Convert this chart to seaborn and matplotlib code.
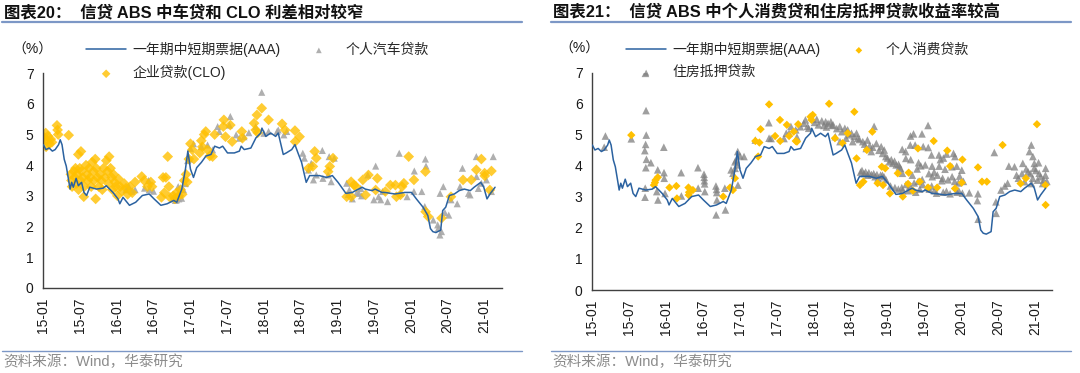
import matplotlib
matplotlib.use("Agg")
import pandas as pd
import matplotlib.pyplot as plt
import matplotlib.dates as mdates
from matplotlib.lines import Line2D
import seaborn as sns

# 1. Data
# 一年期中短期票据(AAA) - shared by both panels
mtn_dates = [
    "2015-01-01", "2015-01-14", "2015-01-30", "2015-02-15", "2015-03-01", "2015-03-18", "2015-03-26",
    "2015-04-04", "2015-04-15", "2015-04-25", "2015-05-06", "2015-05-14", "2015-05-22", "2015-05-30",
    "2015-06-13", "2015-06-24", "2015-07-10", "2015-07-22", "2015-08-04", "2015-08-20", "2015-09-22",
    "2015-10-25", "2015-11-10", "2015-12-13", "2016-01-07", "2016-01-16", "2016-02-01", "2016-03-04",
    "2016-04-04", "2016-05-07", "2016-06-10", "2016-07-04", "2016-08-07", "2016-09-07", "2016-10-10",
    "2016-10-25", "2016-11-19", "2016-12-07", "2016-12-19", "2017-01-01", "2017-01-16", "2017-02-01",
    "2017-02-24", "2017-03-19", "2017-04-13", "2017-05-01", "2017-05-25", "2017-06-10", "2017-07-04",
    "2017-08-07", "2017-09-01", "2017-09-10", "2017-09-25", "2017-10-28", "2017-11-22", "2017-12-16",
    "2017-12-22", "2018-01-10", "2018-02-04", "2018-02-28", "2018-03-13", "2018-04-07", "2018-04-22",
    "2018-05-19", "2018-06-04", "2018-06-19", "2018-07-07", "2018-07-22", "2018-07-30", "2018-08-16",
    "2018-10-04", "2018-11-07", "2018-12-07", "2019-01-04", "2019-01-28", "2019-02-12", "2019-03-16",
    "2019-04-01", "2019-05-04", "2019-05-19", "2019-06-22", "2019-07-07", "2019-08-10", "2019-08-25",
    "2019-10-13", "2019-12-01", "2020-01-04", "2020-01-28", "2020-03-01", "2020-03-25", "2020-04-07",
    "2020-04-19", "2020-05-04", "2020-05-28", "2020-06-07", "2020-06-22", "2020-07-10", "2020-08-04",
    "2020-08-28", "2020-09-22", "2020-10-22", "2020-11-10", "2020-12-13", "2020-12-28", "2021-01-13",
    "2021-01-28", "2021-02-22",
]
mtn_vals = [
    4.67, 4.51, 4.56, 4.46, 4.51, 4.67, 4.83,
    4.67, 4.19, 3.97, 3.54, 3.22, 3.44, 3.28,
    3.57, 3.33, 3.44, 3.11, 3.01, 3.28, 3.22,
    3.25, 3.33, 3.11, 2.90, 2.74, 2.95, 2.69,
    2.79, 3.01, 3.06, 2.90, 2.69, 2.74, 2.85,
    2.79, 3.22, 3.87, 4.46, 3.87, 3.60, 3.92,
    4.09, 4.30, 4.35, 4.62, 4.56, 4.62, 4.40,
    4.40, 4.46, 4.62, 4.51, 4.56, 4.89, 5.05,
    5.21, 4.94, 5.05, 4.94, 5.05, 4.35, 4.40,
    4.51, 4.67, 4.40, 4.09, 3.66, 3.44, 3.66,
    3.66, 3.60, 3.66, 3.44, 3.22, 3.08, 3.11,
    3.17, 3.28, 3.22, 3.17, 3.22, 3.11, 3.11,
    3.06, 3.11, 3.11, 2.90, 2.63, 2.36, 1.93,
    1.83, 1.80, 1.88, 2.52, 2.63, 3.01, 3.06,
    3.17, 3.22, 3.17, 3.28, 3.44, 3.28, 2.90,
    3.06, 3.28,
]

# 企业贷款(CLO)
clo_dates = [
    "2015-01-07", "2015-01-13", "2015-01-18", "2015-01-24", "2015-02-01", "2015-02-07", "2015-02-13",
    "2015-01-15", "2015-03-10", "2015-03-13", "2015-03-16", "2015-05-07", "2015-06-24", "2015-07-07",
    "2015-05-18", "2015-05-21", "2015-05-24", "2015-06-01", "2015-06-07", "2015-06-10", "2015-06-16",
    "2015-06-18", "2015-06-25", "2015-07-01", "2015-07-04", "2015-07-10", "2015-07-16", "2015-07-21",
    "2015-07-24", "2015-08-01", "2015-08-07", "2015-08-10", "2015-08-16", "2015-08-21", "2015-08-27",
    "2015-09-01", "2015-09-07", "2015-09-10", "2015-09-16", "2015-09-18", "2015-09-21", "2015-09-27",
    "2015-10-04", "2015-10-10", "2015-10-16", "2015-10-21", "2015-10-27", "2015-11-04", "2015-11-10",
    "2015-11-16", "2015-11-21", "2015-11-24", "2015-12-01", "2015-12-07", "2015-12-10", "2015-12-16",
    "2015-12-21", "2015-12-27", "2016-01-04", "2016-01-10", "2016-01-18", "2016-01-27", "2016-02-07",
    "2016-02-16", "2016-02-24", "2016-03-07", "2016-03-18", "2016-04-01", "2016-05-04", "2016-05-16",
    "2016-06-01", "2016-06-18", "2016-06-24", "2016-08-10", "2016-08-18", "2016-08-24", "2016-09-01",
    "2016-09-10", "2016-09-16", "2016-09-21", "2016-10-07", "2016-10-16", "2016-10-24", "2016-11-04",
    "2016-11-13", "2016-11-21", "2016-12-01", "2016-12-10", "2016-12-16", "2016-12-24", "2017-01-01",
    "2017-01-10", "2017-01-18", "2017-02-16", "2017-02-24", "2017-03-01", "2017-03-10", "2017-03-18",
    "2017-03-27", "2017-04-07", "2017-04-21", "2017-05-01", "2017-06-13", "2017-06-16", "2017-06-24",
    "2017-07-18", "2017-07-27", "2017-09-13", "2017-09-16", "2017-11-13", "2017-11-21", "2017-11-27",
    "2017-12-01", "2017-12-21", "2018-01-24", "2018-04-01", "2018-04-16", "2018-06-04", "2018-06-27",
    "2018-06-05", "2018-08-10", "2018-09-01", "2018-09-10", "2018-09-18", "2018-11-16", "2018-11-24",
    "2018-12-10", "2019-02-16", "2019-03-10", "2019-03-11", "2019-03-24", "2019-04-04", "2019-05-07",
    "2019-05-21", "2019-06-04", "2019-07-10", "2019-07-18", "2019-08-27", "2019-09-21", "2019-10-16",
    "2019-10-21", "2019-11-10", "2019-11-18", "2019-11-27", "2019-12-21", "2020-01-16", "2020-03-13",
    "2020-03-14", "2020-03-27", "2020-06-01", "2020-07-18", "2020-09-16", "2020-10-27", "2020-11-21",
    "2020-12-16", "2021-01-01", "2021-01-02", "2021-02-04", "2021-01-27",
]
clo_vals = [
    4.90, 5.05, 4.80, 4.95, 4.70, 4.85, 4.75,
    4.60, 5.30, 5.15, 5.00, 4.98, 4.35, 4.45,
    3.70, 3.50, 3.30, 3.80, 3.60, 3.90, 3.40,
    3.70, 3.20, 3.90, 3.50, 3.80, 3.60, 2.97,
    3.30, 4.00, 3.70, 3.50, 3.90, 3.60, 3.30,
    4.10, 3.80, 3.50, 4.20, 2.90, 3.90, 3.60,
    3.30, 3.70, 3.50, 3.20, 3.90, 3.60, 4.15,
    3.80, 3.40, 4.28, 3.90, 3.60, 3.20, 3.70,
    3.45, 3.30, 3.00, 3.55, 3.30, 3.15, 3.40,
    3.25, 3.05, 3.30, 3.10, 3.45, 3.63, 3.50,
    3.30, 3.45, 3.30, 2.95, 3.60, 3.10, 3.60,
    4.28, 3.30, 2.95, 3.00, 2.90, 3.10, 3.00,
    3.20, 3.05, 3.50, 3.70, 3.45, 4.20, 4.70,
    4.50, 4.20, 4.40, 4.80, 4.60, 5.00, 5.10,
    4.50, 4.30, 4.28, 5.00, 5.26, 5.48, 4.93,
    5.31, 4.77, 5.10, 4.88, 5.37, 5.15, 5.64,
    5.06, 5.86, 5.48, 5.35, 5.15, 5.13, 4.93,
    4.77, 3.90, 3.96, 4.45, 4.23, 3.79, 3.96,
    4.23, 2.97, 3.46, 2.97, 3.35, 3.30, 3.52,
    3.03, 3.68, 3.19, 3.57, 3.14, 3.35, 3.35,
    2.97, 3.03, 3.30, 3.41, 4.28, 3.52, 3.79,
    2.48, 2.32, 2.27, 2.97, 3.52, 3.52, 3.85,
    4.20, 3.74, 3.65, 3.81, 3.19,
]

# 个人汽车贷款
auto_dates = [
    "2016-02-16", "2016-03-01", "2016-03-16", "2016-04-01", "2016-05-18", "2016-06-07", "2016-06-10",
    "2016-07-01", "2016-10-07", "2016-10-18", "2016-10-24", "2016-11-01", "2016-11-04", "2016-11-18",
    "2016-11-27", "2016-12-07", "2016-12-18", "2016-12-27", "2017-01-01", "2017-01-16", "2017-02-24",
    "2017-03-27", "2017-04-21", "2017-05-16", "2017-05-24", "2017-07-13", "2017-07-18", "2017-08-16",
    "2017-09-01", "2017-09-24", "2017-10-18", "2017-11-21", "2017-12-21", "2018-01-01", "2018-01-24",
    "2018-03-07", "2018-03-13", "2018-04-10", "2018-04-24", "2018-07-13", "2018-07-21", "2018-08-10",
    "2018-08-24", "2018-09-04", "2018-09-18", "2018-10-18", "2018-10-21", "2018-11-16", "2018-11-21",
    "2018-12-01", "2018-12-16", "2019-02-16", "2019-02-24", "2019-03-01", "2019-03-16", "2019-04-07",
    "2019-04-18", "2019-04-27", "2019-05-01", "2019-06-01", "2019-07-01", "2019-07-10", "2019-07-24",
    "2019-08-04", "2019-08-13", "2019-09-07", "2019-11-04", "2019-11-10", "2019-12-13", "2020-01-16",
    "2020-01-18", "2020-02-24", "2020-03-10", "2020-03-13", "2020-03-16", "2020-04-21", "2020-05-13",
    "2020-05-16", "2020-05-24", "2020-06-01", "2020-05-25", "2020-06-10", "2020-06-18", "2020-07-07",
    "2020-07-18", "2020-08-18", "2020-09-01", "2020-09-13", "2020-10-13", "2020-10-21", "2020-11-21",
    "2020-11-22", "2020-12-01", "2020-12-16", "2021-01-10", "2021-02-13", "2021-02-04",
]
auto_vals = [
    3.20, 3.30, 3.15, 3.20, 3.25, 3.50, 3.20,
    3.15, 2.90, 2.85, 2.87, 3.30, 2.90, 2.92,
    3.20, 3.40, 4.15, 4.20, 4.55, 4.70, 4.61,
    4.66, 4.50, 5.26, 5.10, 5.31, 5.59, 4.99,
    4.88, 4.93, 5.06, 5.26, 6.38, 5.04, 5.10,
    5.10, 5.15, 4.99, 5.10, 4.39, 4.23, 3.84,
    4.06, 3.52, 3.68, 4.48, 3.57, 3.68, 4.28,
    3.46, 4.23, 3.41, 3.05, 3.19, 2.90, 3.10,
    3.08, 3.24, 3.00, 3.68, 2.87, 3.97, 2.97,
    2.87, 3.14, 2.81, 4.39, 3.08, 2.97, 3.14,
    3.81, 3.14, 2.65, 4.20, 3.97, 2.21, 2.05,
    1.94, 1.72, 1.83, 3.08, 3.30, 2.45, 2.37,
    2.87, 2.74, 3.30, 3.90, 3.08, 3.03, 4.28,
    3.63, 3.24, 3.41, 3.52, 4.28, 3.14,
]

# 个人消费贷款
cons_dates = [
    "2015-07-13", "2015-11-02", "2015-11-10", "2015-11-21", "2015-11-07", "2016-01-18", "2016-02-21",
    "2016-02-24", "2016-04-21", "2016-04-24", "2016-04-22", "2016-05-13", "2016-10-10", "2016-11-13",
    "2016-11-27", "2016-12-07", "2017-03-18", "2017-04-07", "2017-04-13", "2017-04-01", "2017-05-25",
    "2017-06-24", "2017-07-18", "2017-07-19", "2017-08-21", "2017-09-01", "2017-09-24", "2017-10-04",
    "2017-10-10", "2017-10-16", "2017-12-16", "2017-12-21", "2017-12-27", "2018-03-18", "2018-04-16",
    "2018-05-24", "2018-06-18", "2018-07-21", "2018-08-01", "2018-08-18", "2018-09-04", "2018-09-21",
    "2018-10-18", "2018-11-13", "2018-12-10", "2018-12-04", "2018-12-21", "2019-01-13", "2019-02-21",
    "2019-03-18", "2019-04-16", "2019-04-13", "2019-05-07", "2019-06-01", "2019-06-10", "2019-07-21",
    "2019-08-18", "2019-09-04", "2019-10-24", "2019-11-07", "2019-12-01", "2020-01-07", "2020-01-04",
    "2020-03-24", "2020-04-13", "2020-05-07", "2020-07-24", "2020-10-21", "2020-11-16", "2021-01-10",
    "2021-02-21", "2021-02-22",
]
cons_vals = [
    4.99, 3.38, 3.54, 3.63, 3.46, 3.30, 3.35,
    2.95, 3.30, 3.15, 3.06, 3.22, 3.01, 3.30,
    3.22, 3.60, 4.80, 4.75, 5.18, 4.30, 5.98,
    4.96, 5.48, 4.80, 5.32, 4.96, 5.10, 4.80,
    4.78, 5.34, 5.58, 5.48, 5.64, 6.00, 4.89,
    4.73, 5.05, 5.74, 4.24, 3.38, 3.49, 4.51,
    5.10, 3.44, 3.38, 3.97, 3.92, 3.11, 3.76,
    3.01, 3.78, 3.42, 3.20, 4.56, 3.49, 3.30,
    4.80, 3.30, 4.49, 3.99, 3.27, 4.20, 3.46,
    3.95, 3.49, 3.49, 4.67, 3.43, 3.60, 5.34,
    3.38, 2.74,
]

# 住房抵押贷款
mort_dates = [
    "2015-03-01", "2015-03-07", "2015-07-13", "2015-09-21", "2015-09-24", "2015-09-25", "2015-09-22",
    "2015-09-18", "2015-09-26", "2015-09-23", "2015-09-20", "2015-09-19", "2015-10-18", "2015-11-21",
    "2015-11-22", "2015-11-16", "2015-12-21", "2015-12-22", "2015-12-23", "2015-12-27", "2016-03-16",
    "2016-03-17", "2016-06-07", "2016-06-08", "2016-07-07", "2016-07-08", "2016-07-09", "2016-07-10",
    "2016-07-11", "2016-09-04", "2016-09-07", "2016-09-08", "2016-09-09", "2016-09-05", "2016-10-21",
    "2016-10-18", "2016-11-18", "2016-11-27", "2016-12-07", "2016-12-08", "2016-12-13", "2016-12-18",
    "2016-12-21", "2016-12-22", "2017-01-01", "2017-01-21", "2017-03-18", "2017-05-24", "2017-05-25",
    "2017-06-04", "2017-08-07", "2017-08-18", "2017-09-01", "2017-09-10", "2017-10-04", "2017-10-10",
    "2017-10-27", "2017-11-13", "2017-11-21", "2017-12-01", "2017-12-07", "2018-01-16", "2018-01-24",
    "2018-03-01", "2018-03-13", "2018-03-27", "2018-04-07", "2018-04-18", "2018-05-10", "2018-05-11",
    "2018-06-04", "2018-06-10", "2018-06-18", "2018-07-07", "2018-07-13", "2018-08-01", "2018-08-07",
    "2018-09-01", "2018-09-18", "2018-09-24", "2018-10-13", "2018-10-27", "2018-11-07", "2018-12-01",
    "2018-12-16", "2018-12-24", "2019-01-10", "2019-01-27", "2019-02-13", "2019-03-01", "2019-03-16",
    "2019-03-15", "2019-04-01", "2019-04-24", "2019-04-25", "2019-05-10", "2019-05-18", "2019-06-21",
    "2019-06-27", "2019-07-21", "2019-07-22", "2019-08-07", "2019-09-13", "2019-10-21", "2019-11-24",
    "2019-04-02", "2019-04-26", "2019-06-04", "2019-07-07", "2019-08-10", "2019-09-14", "2019-10-13",
    "2019-11-16", "2019-12-10", "2020-01-04", "2019-03-07", "2019-05-04", "2019-06-22", "2019-08-11",
    "2019-09-27", "2019-11-17", "2019-12-24", "2018-08-21", "2018-09-07", "2018-09-25", "2018-10-14",
    "2018-11-01", "2018-11-16", "2018-12-07", "2018-12-25", "2019-01-16", "2019-02-07", "2019-02-24",
    "2019-03-13", "2019-04-03", "2019-04-21", "2019-05-13", "2019-06-02", "2019-06-24", "2019-07-16",
    "2019-08-08", "2019-03-17", "2019-05-21", "2019-07-27", "2019-09-01", "2019-10-04", "2019-11-07",
    "2019-12-11", "2020-01-07", "2020-02-10", "2020-03-24", "2020-03-21", "2020-03-25", "2020-06-13",
    "2020-06-21", "2020-06-22", "2020-07-16", "2020-08-04", "2020-08-24", "2020-08-18", "2020-09-21",
    "2020-10-01", "2020-11-01", "2020-12-04", "2020-12-13", "2020-12-21", "2020-11-27", "2020-12-27",
    "2021-01-21", "2021-02-21", "2021-02-22", "2020-11-10", "2020-12-14", "2021-01-13", "2021-02-07",
    "2020-12-28", "2018-01-05", "2018-02-10", "2018-02-20", "2018-03-05", "2018-04-01", "2018-04-25",
    "2018-05-20", "2018-06-25", "2018-07-20", "2018-08-15", "2018-09-10", "2018-10-05", "2018-10-20",
    "2018-11-20", "2018-12-08", "2019-01-01", "2019-01-20", "2019-02-05", "2019-02-25", "2018-08-28",
    "2018-09-15", "2018-10-01", "2018-10-25", "2018-11-10", "2018-11-28", "2018-12-15", "2019-05-28",
    "2019-06-15", "2019-07-25", "2019-08-20", "2019-09-05", "2019-10-01", "2019-10-28", "2019-11-30",
    "2019-12-18", "2020-01-12", "2019-09-20", "2019-10-05", "2019-12-01", "2019-04-15", "2019-06-10",
    "2019-08-21", "2019-10-20", "2019-12-20", "2020-10-10", "2020-10-28", "2020-11-18", "2020-12-08",
    "2021-01-05", "2021-01-28", "2021-02-12", "2021-01-18", "2020-12-20", "2021-02-28",
]
mort_vals = [
    4.60, 4.96, 4.87, 6.98, 5.78, 4.99, 4.69,
    4.49, 4.21, 3.94, 3.28, 2.99, 4.10, 3.87,
    2.90, 3.17, 4.60, 3.78, 3.60, 3.11, 3.78,
    3.03, 3.94, 3.28, 3.73, 3.63, 3.52, 3.42,
    3.17, 3.35, 3.24, 3.14, 2.90, 2.42, 2.58,
    3.28, 3.87, 3.76, 4.13, 3.92, 4.19, 4.03,
    4.46, 3.38, 4.32, 4.30, 4.83, 5.39, 4.89,
    4.88, 4.88, 5.05, 5.05, 5.27, 5.16, 4.93,
    5.26, 5.37, 5.48, 5.27, 5.21, 5.50, 5.32,
    5.42, 5.37, 5.42, 5.32, 4.94, 5.27, 4.78,
    5.21, 4.89, 5.16, 5.05, 4.78, 5.05, 4.89,
    4.78, 4.56, 4.83, 4.46, 5.27, 4.72, 4.62,
    4.51, 4.30, 4.13, 4.08, 4.03, 3.97, 3.76,
    4.53, 4.46, 4.67, 4.96, 5.03, 4.67, 5.03,
    4.62, 5.30, 4.59, 4.35, 4.35, 4.38, 4.40,
    4.24, 4.20, 4.10, 4.03, 3.99, 3.99, 3.89,
    3.97, 3.99, 3.86, 3.92, 3.70, 3.56, 3.65,
    3.52, 3.65, 3.67, 3.80, 3.75, 3.70, 3.72,
    3.65, 3.60, 3.70, 3.55, 3.35, 3.30, 3.25,
    3.30, 3.40, 3.35, 3.45, 3.50, 3.40, 3.30,
    3.35, 3.20, 3.15, 3.25, 3.12, 3.15, 3.10,
    3.15, 3.12, 3.13, 3.10, 2.88, 2.28, 4.43,
    2.84, 2.47, 3.22, 3.35, 3.99, 3.44, 3.97,
    3.70, 4.08, 4.46, 4.67, 4.30, 3.81, 3.92,
    3.76, 3.70, 3.92, 3.49, 3.43, 3.54, 3.43,
    4.08, 5.40, 5.45, 5.30, 5.25, 5.30, 5.20,
    5.10, 5.00, 4.95, 4.85, 4.70, 4.65, 4.60,
    4.50, 4.40, 4.25, 4.20, 4.15, 4.05, 3.85,
    3.80, 3.78, 3.75, 3.72, 3.70, 3.65, 3.90,
    4.00, 3.75, 3.80, 3.70, 3.60, 3.55, 3.50,
    3.45, 3.50, 4.20, 4.25, 4.30, 3.20, 3.25,
    3.20, 3.18, 3.20, 3.60, 3.75, 3.90, 3.75,
    3.85, 3.65, 3.55, 4.10, 3.60, 3.50,
]

titles = ["图表20：  信贷 ABS 中车贷和 CLO 利差相对较窄",
          "图表21：  信贷 ABS 中个人消费贷和住房抵押贷款收益率较高"]
source_text = "资料来源：Wind，华泰研究"
label_mtn = "一年期中短期票据(AAA)"
label_auto = "个人汽车贷款"
label_clo = "企业贷款(CLO)"
label_cons = "个人消费贷款"
label_mort = "住房抵押贷款"

# 2. Frames
mtn_df = pd.DataFrame({"date": pd.to_datetime(mtn_dates), "value": mtn_vals})
clo_df = pd.DataFrame({"date": pd.to_datetime(clo_dates), "value": clo_vals})
auto_df = pd.DataFrame({"date": pd.to_datetime(auto_dates), "value": auto_vals})
cons_df = pd.DataFrame({"date": pd.to_datetime(cons_dates), "value": cons_vals})
mort_df = pd.DataFrame({"date": pd.to_datetime(mort_dates), "value": mort_vals})

# 3. Style
sns.set_style("white")
plt.rcParams["font.family"] = ["Liberation Sans", "Noto Sans CJK SC", "DejaVu Sans"]
plt.rcParams["axes.unicode_minus"] = False

W, H = 1080, 373
fig = plt.figure(figsize=(10.8, 3.73), dpi=100)
ax1 = fig.add_axes([43.3 / W, 1 - 287.7 / H, (501.7 - 43.3) / W, (287.7 - 73.3) / H])
ax2 = fig.add_axes([592.3 / W, 1 - 290 / H, (1052.3 - 592.3) / W, (290 - 72.7) / H])

BLUE = "#2B62A0"
GOLD = "#FFC000"
RULE = "#7C97C6"


def style_axis(ax):
    ax.set_xlim(pd.Timestamp("2015-01-01"), pd.Timestamp("2021-03-27"))
    ax.set_ylim(0, 7)
    ax.set_yticks(range(0, 8))
    ax.xaxis.set_major_locator(mdates.MonthLocator(bymonth=[1, 7]))
    ax.xaxis.set_major_formatter(mdates.DateFormatter("%y-%m"))
    ax.tick_params(axis="both", direction="out", length=4, width=1, color="#404040",
                   labelsize=10, labelcolor="#1a1a1a", pad=3)
    ax.tick_params(axis="x", labelrotation=90)
    for side in ["top", "right"]:
        ax.spines[side].set_visible(False)
    for side in ["left", "bottom"]:
        ax.spines[side].set_color("#404040")
        ax.spines[side].set_linewidth(1)
    ax.set_xlabel("")
    ax.set_ylabel("")


# Left panel
sns.scatterplot(data=auto_df, x="date", y="value", ax=ax1, marker="^", s=26,
                color="#A6A6A6", edgecolor="none", alpha=0.9, label=label_auto, zorder=2)
sns.scatterplot(data=clo_df, x="date", y="value", ax=ax1, marker="D", s=30,
                color=GOLD, edgecolor="none", alpha=0.8, label=label_clo, zorder=2)
sns.lineplot(data=mtn_df, x="date", y="value", ax=ax1, color=BLUE, lw=1.1,
             estimator=None, label=label_mtn, zorder=3)
style_axis(ax1)

# Right panel
sns.scatterplot(data=mort_df, x="date", y="value", ax=ax2, marker="^", s=30,
                color="#7F7F7F", edgecolor="none", alpha=0.75, label=label_mort, zorder=2)
sns.scatterplot(data=cons_df, x="date", y="value", ax=ax2, marker="D", s=18,
                color=GOLD, edgecolor="none", alpha=1.0, label=label_cons, zorder=2)
sns.lineplot(data=mtn_df, x="date", y="value", ax=ax2, color=BLUE, lw=1.1,
             estimator=None, label=label_mtn, zorder=3)
style_axis(ax2)

# Legends (row order: line + 2nd series on first row, 3rd series below)
def place_legend(ax, order, x_px):
    handles, labels = ax.get_legend_handles_labels()
    lookup = dict(zip(labels, handles))
    ax.legend([lookup[k] for k in order], order, ncol=2, frameon=False,
              loc="upper left", bbox_to_anchor=(x_px / W, 1 - 42 / H),
              bbox_transform=fig.transFigure, borderpad=0, borderaxespad=0,
              handlelength=2.9, handletextpad=0.45, columnspacing=1.3,
              labelspacing=0.6, fontsize=10, markerscale=0.8)


place_legend(ax1, [label_mtn, label_clo, label_auto], 86)
place_legend(ax2, [label_mtn, label_mort, label_cons], 626)

# Titles, units, rules, source
for x_px, x0, x1, title in [(4, 2, 522, titles[0]), (553, 551, 1071, titles[1])]:
    fig.text(x_px / W, 1 - 12 / H, title, fontsize=11.8, fontweight="bold",
             va="center", ha="left", color="#111111")
    fig.add_artist(Line2D([x0 / W, x1 / W], [1 - 22 / H, 1 - 22 / H],
                          transform=fig.transFigure, color=RULE, lw=1.6))
    fig.add_artist(Line2D([x0 / W, x1 / W], [1 - 351 / H, 1 - 351 / H],
                          transform=fig.transFigure, color=RULE, lw=1.0))
    fig.text((x_px - 1) / W, 1 - 362 / H, source_text, fontsize=10.5,
             va="center", ha="left", color="#8C8C8C")

fig.text(32 / W, 1 - 50 / H, "（%）", fontsize=10, va="center", ha="center", color="#1a1a1a")
fig.text(579 / W, 1 - 49 / H, "（%）", fontsize=10, va="center", ha="center", color="#1a1a1a")

fig.savefig("out.png", dpi=100)
